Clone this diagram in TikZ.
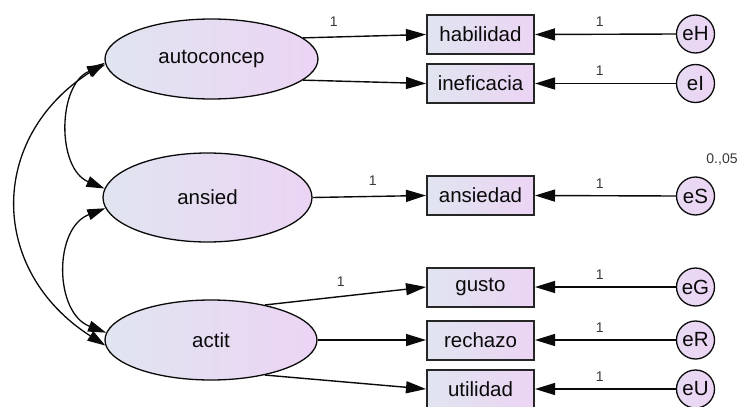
\documentclass[tikz,border=0pt]{standalone}
\usepackage{fontspec}
\setmainfont{Liberation Sans}
\usetikzlibrary{shapes.geometric,arrows.meta,calc}
\definecolor{fillL}{RGB}{224,229,240}
\definecolor{fillR}{RGB}{236,212,244}
\definecolor{ink}{RGB}{10,10,10}
\definecolor{lblgray}{RGB}{55,55,55}
\begin{document}
\begin{tikzpicture}[x=1pt,y=-1pt,
  boxfont/.style={font=\fontsize{20.5}{24}\selectfont, text=ink},
  latent/.style={ellipse, draw=ink, line width=1.3pt, left color=fillL, right color=fillR,
    inner sep=0pt, boxfont},
  observed/.style={rectangle, draw=black!85, line width=2pt, left color=fillL, right color=fillR,
    minimum width=107pt, minimum height=39pt, inner sep=0pt, boxfont},
  errvar/.style={circle, draw=ink, line width=1.3pt, left color=fillL!35!fillR, right color=fillR,
    minimum size=38pt, inner sep=0pt, boxfont},
  regpath/.style={draw=ink, line width=1.4pt, -{Triangle[length=20pt,width=12pt]}},
  covpath/.style={draw=ink, line width=1.3pt,
    {Triangle[length=18pt,width=11pt]}-{Triangle[length=18pt,width=11pt]}},
  weight/.style={font=\fontsize{14}{16}\selectfont, text=lblgray, inner sep=1pt}
]
\useasboundingbox (0,0) rectangle (742,407);

% latent variables
\node[latent, minimum width=213pt, minimum height=80pt] (autoconcep) at (211.5,59) {autoconcep};
\node[latent, minimum width=209pt, minimum height=89pt] (ansied) at (207.5,197.5) {ansied};
\node[latent, minimum width=212pt, minimum height=80pt] (actit) at (211,340) {actit};

% observed indicators
\node[observed] (habilidad) at (480.5,34.5) {habilidad};
\node[observed] (ineficacia) at (480.5,83.5) {ineficacia};
\node[observed] (ansiedad) at (480.5,195.5) {ansiedad};
\node[observed] (gusto) at (480.5,287) {gusto};
\node[observed] (rechazo) at (480.5,340) {rechazo};
\node[observed] (utilidad) at (480.5,389) {utilidad};

% error terms
\node[errvar] (eH) at (695.5,34) {eH};
\node[errvar] (eI) at (695.5,83.5) {eI};
\node[errvar] (eS) at (695.5,196) {eS};
\node[errvar] (eG) at (695.5,287) {eG};
\node[errvar] (eR) at (695.5,340) {eR};
\node[errvar] (eU) at (695.5,389) {eU};
\node[weight, font=\fontsize{14}{16}\selectfont] (eSvar) at (722,160) {0.,05};

% factor loadings
\draw[regpath] (autoconcep.13) -- node[weight, pos=0.25, above=9pt] {1} (habilidad.west);
\draw[regpath] (autoconcep.-13) -- (ineficacia.west);
\draw[regpath] (ansied.east) -- node[weight, pos=0.53, above=9pt] {1} (ansiedad.west);
\draw[regpath] (actit.33) -- node[weight, pos=0.47, above=8pt] {1} (gusto.west);
\draw[regpath] (actit.east) -- (rechazo.west);
\draw[regpath] (actit.-33) -- (utilidad.west);

% error paths
\foreach \e/\o in {eH/habilidad, eI/ineficacia, eS/ansiedad, eG/gusto, eR/rechazo, eU/utilidad}
  \draw[regpath] (\e.west) -- node[weight, pos=0.54, above=6pt] {1} (\o.east);

% covariances between the factors
\draw[covpath] (autoconcep.183) .. controls +(-48,20) and +(-48,-20) .. (ansied.175);
\draw[covpath] (ansied.186) .. controls +(-52,20) and +(-52,-20) .. (actit.176);
\draw[covpath] (autoconcep.182) .. controls +(-117,75) and +(-117,-75) .. (actit.183);
\end{tikzpicture}
\end{document}
